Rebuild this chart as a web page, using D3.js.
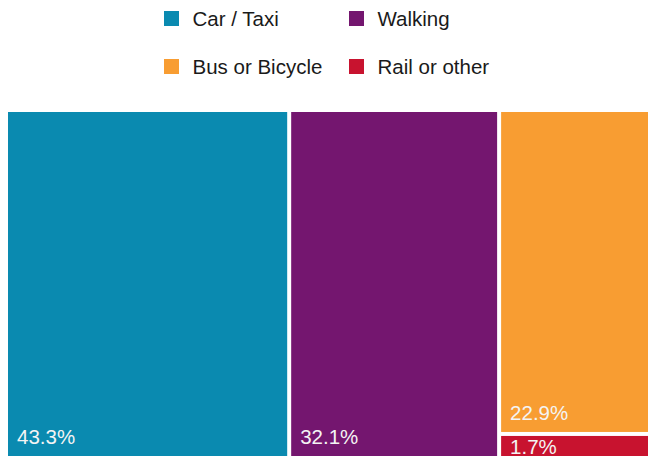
<!DOCTYPE html>
<html>
<head>
<meta charset="utf-8">
<script src="https://cdn.jsdelivr.net/npm/d3@7"></script>
<style>
  html, body { margin: 0; padding: 0; background: #ffffff; overflow: hidden; }
  svg { display: block; font-family: "Liberation Sans", Arial, Helvetica, sans-serif; }
</style>
</head>
<body>
<svg id="chart" width="648" height="456"></svg>
<script>
// Mode of travel, share of trips (%)
const modes = ["Car / Taxi", "Walking", "Bus or Bicycle", "Rail or other"];
const shares = [43.3, 32.1, 22.9, 1.7];
const colors = ["#0A8AB0", "#74166F", "#F89D32", "#C8132F"];
// The two smallest modes share one column
const groupedModes = ["Bus or Bicycle", "Rail or other"];

const svg = d3.select("#chart");

// Legend: two columns, two rows
const legendOrder = [["Car / Taxi", "Walking"], ["Bus or Bicycle", "Rail or other"]];
const legendX = [164, 349];
const legendY = [26, 74];
const colorOf = d3.scaleOrdinal().domain(modes).range(colors);

const legend = svg.append("g");
legendOrder.forEach((row, r) => {
  row.forEach((name, c) => {
    const g = legend.append("g").attr("transform", `translate(${legendX[c]},${legendY[r]})`);
    g.append("rect").attr("x", 0).attr("y", -15).attr("width", 15).attr("height", 15)
      .attr("fill", colorOf(name));
    g.append("text").attr("x", 28.5).attr("y", 0)
      .attr("font-size", 20.5).attr("fill", "#1a1a1a").text(name);
  });
});

// Hierarchy: top level split left-to-right, grouped column split top-to-bottom
const leaves = modes.map((m, i) => ({ name: m, value: shares[i] }));
const rootData = {
  name: "all",
  children: [
    ...leaves.filter(d => !groupedModes.includes(d.name)),
    { name: "other", children: leaves.filter(d => groupedModes.includes(d.name)) }
  ]
};

const root = d3.hierarchy(rootData).sum(d => d.value || 0);

const mapX = 8, mapY = 112, mapW = 650, mapH = 344;
d3.treemap()
  .tile(d3.treemapSliceDice)
  .size([mapW, mapH])
  .paddingInner(4)
  .round(false)(root);

const map = svg.append("g").attr("transform", `translate(${mapX},${mapY})`);

const cells = map.selectAll("g.cell")
  .data(root.leaves())
  .join("g")
  .attr("class", "cell");

cells.append("rect")
  .attr("x", d => d.x0)
  .attr("y", d => d.y0)
  .attr("width", d => d.x1 - d.x0)
  .attr("height", d => d.y1 - d.y0)
  .attr("fill", d => colorOf(d.data.name));

cells.append("text")
  .attr("x", d => d.x0 + 9)
  .attr("y", d => Math.max(d.y1 - 12, d.y0 + 18))
  .attr("font-size", 20.5)
  .attr("fill", "#f4f4f4")
  .text(d => d3.format(".1f")(d.data.value) + "%");
</script>
</body>
</html>
